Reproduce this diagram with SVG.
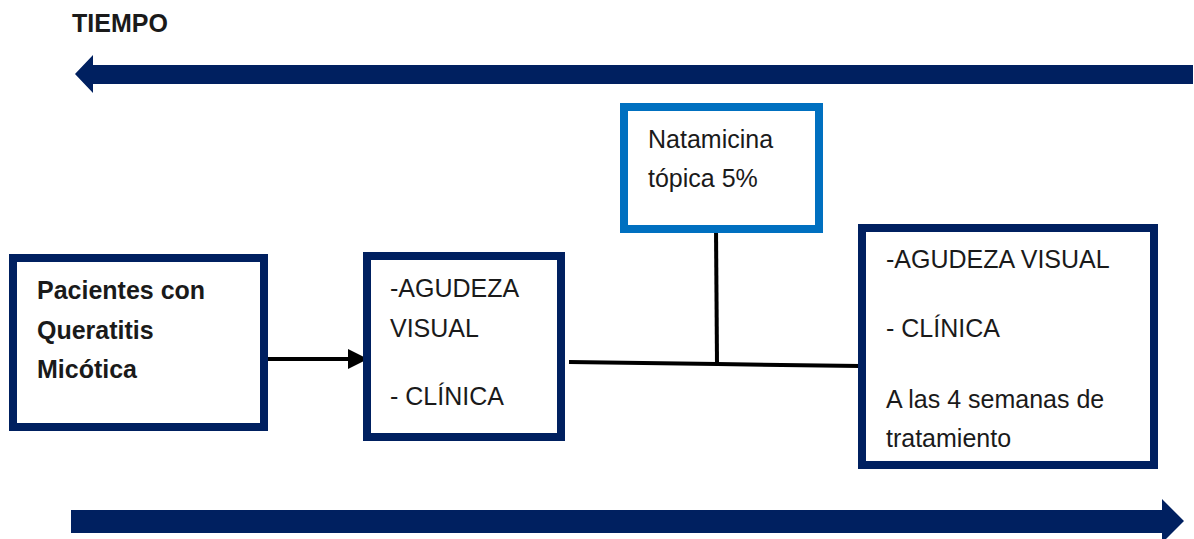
<svg xmlns="http://www.w3.org/2000/svg" width="1194" height="539" viewBox="0 0 1194 539">
<defs>
<style>
.box{fill:#ffffff;stroke:#002060;stroke-width:8}
.boxb{fill:#ffffff;stroke:#0070C0;stroke-width:8}
.t{font-family:"Liberation Sans",Arial,sans-serif;font-size:25px;fill:#1a1a1a}
.b{font-weight:bold}
.ln{stroke:#000000;stroke-width:4;fill:none}
.big{fill:#002060}
</style>
<marker id="ah" viewBox="0 0 10 10" refX="9" refY="5" markerWidth="5" markerHeight="5" orient="auto" markerUnits="strokeWidth">
<path d="M0,0 L10,5 L0,10 z" fill="#000000"/>
</marker>
</defs>
<rect width="1194" height="539" fill="#ffffff"/>
<g id="title">
<text class="t b" x="72" y="32" font-size="24">TIEMPO</text>
</g>
<g id="arrow-top">
<path class="big" d="M75,74 L93,55 L93,65 L1193,65 L1193,84 L93,84 L93,93 z"/>
</g>
<g id="arrow-bottom">
<path class="big" d="M71,510 L1162,510 L1162,499 L1184,521 L1162,543 L1162,533 L71,533 z"/>
</g>
<g id="connectors">
<line class="ln" x1="266" y1="359" x2="366" y2="359" marker-end="url(#ah)"/>
<path class="ln" d="M569,362 L717,364 L860,366"/>
<line class="ln" x1="716" y1="229" x2="717" y2="364"/>
</g>
<g id="n1">
<rect class="box" x="13" y="258" width="251" height="169"/>
<text class="t b" x="37" y="299">Pacientes con</text>
<text class="t b" x="37" y="339">Queratitis</text>
<text class="t b" x="37" y="378">Micótica</text>
</g>
<g id="n2">
<rect class="box" x="367" y="256" width="194" height="181"/>
<text class="t" x="390" y="297">-AGUDEZA</text>
<text class="t" x="390" y="337">VISUAL</text>
<text class="t" x="390" y="405">- CLÍNICA</text>
</g>
<g id="n3">
<rect class="boxb" x="624" y="107" width="195" height="122"/>
<text class="t" x="648" y="148">Natamicina</text>
<text class="t" x="648" y="187">tópica 5%</text>
</g>
<g id="n4">
<rect class="box" x="862" y="228" width="292" height="237"/>
<text class="t" x="886" y="268">-AGUDEZA VISUAL</text>
<text class="t" x="886" y="337">- CLÍNICA</text>
<text class="t" x="886" y="408">A las 4 semanas de</text>
<text class="t" x="886" y="447">tratamiento</text>
</g>
</svg>
